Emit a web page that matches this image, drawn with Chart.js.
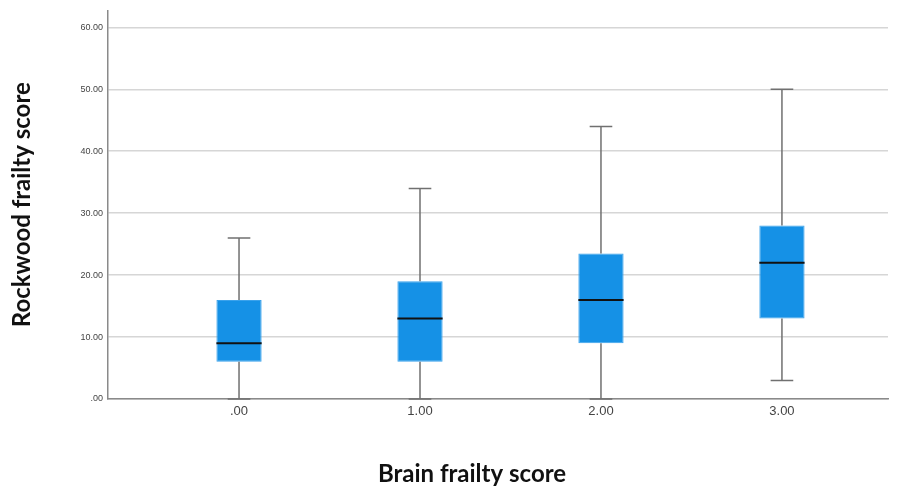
<!DOCTYPE html>
<html>
<head>
<meta charset="utf-8">
<script src="https://cdn.jsdelivr.net/npm/chart.js@4"></script>
<style>
  html, body { margin: 0; padding: 0; background: #fff; }
  #wrap { width: 902px; height: 492px; }
</style>
</head>
<body>
<div id="wrap"><canvas id="grafica"></canvas></div>
<script>
const categorias = ['.00', '1.00', '2.00', '3.00'];
const minimos = [0, 0, 0, 3];
const cuartil1 = [6, 6, 9, 13];
const medianas = [9, 13, 16, 22];
const cuartil3 = [16, 19, 23.5, 28];
const maximos = [26, 34, 44, 50];
const ticksY = [0, 10, 20, 30, 40, 50, 60];

function etiquetaY(v) {
    return v === 0 ? '.00' : v.toFixed(2);
}

// bigotes y mediana encima de las cajas
const bigotes = {
    id: 'bigotes',
    afterDatasetsDraw(chart) {
        const ctx = chart.ctx;
        const y = chart.scales.y;
        const meta = chart.getDatasetMeta(0);
        meta.data.forEach((barra, i) => {
            const x = barra.x;
            const ancho = barra.width;
            const cap = ancho * 0.25;
            ctx.save();
            ctx.strokeStyle = '#707070';
            ctx.lineWidth = 1.5;
            ctx.beginPath();
            ctx.moveTo(x, y.getPixelForValue(minimos[i]));
            ctx.lineTo(x, y.getPixelForValue(cuartil1[i]));
            ctx.moveTo(x, y.getPixelForValue(cuartil3[i]));
            ctx.lineTo(x, y.getPixelForValue(maximos[i]));
            ctx.moveTo(x - cap, y.getPixelForValue(minimos[i]));
            ctx.lineTo(x + cap, y.getPixelForValue(minimos[i]));
            ctx.moveTo(x - cap, y.getPixelForValue(maximos[i]));
            ctx.lineTo(x + cap, y.getPixelForValue(maximos[i]));
            ctx.stroke();
            ctx.strokeStyle = '#111';
            ctx.lineWidth = 2;
            ctx.beginPath();
            ctx.moveTo(x - ancho / 2, y.getPixelForValue(medianas[i]));
            ctx.lineTo(x + ancho / 2, y.getPixelForValue(medianas[i]));
            ctx.stroke();
            ctx.restore();
        });
    }
};

new Chart(document.getElementById('grafica'), {
    type: 'bar',
    data: {
        datasets: [{
            data: categorias.map((c, i) => ({ x: i, y: [cuartil1[i], cuartil3[i]] })),
            backgroundColor: '#1591e6',
            borderColor: '#3aa2ec',
            borderWidth: 1,
            borderSkipped: false,
            barPercentage: 0.25,
            categoryPercentage: 1
        }]
    },
    options: {
        responsive: true,
        maintainAspectRatio: false,
        animation: false,
        layout: { padding: { top: 9, right: 14, bottom: 0, left: 56 } },
        plugins: {
            legend: { display: false },
            tooltip: { enabled: false },
            title: {
                display: true,
                position: 'bottom',
                text: 'Brain frailty score',
                color: '#111',
                font: { family: 'Lato', size: 24, weight: 'bold' },
                padding: { top: 0, bottom: 3 }
            }
        },
        scales: {
            x: {
                type: 'linear',
                offset: false,
                min: -0.724,
                max: 3.586,
                afterBuildTicks: (s) => { s.ticks = categorias.map((c, i) => ({ value: i })); },
                afterFit: (s) => { s.height = 61.2; },
                grid: { display: false, drawTicks: false, offset: false },
                border: { display: true, color: '#8a8a8a', width: 1.5 },
                ticks: {
                    padding: 5,
                    color: '#444',
                    font: { family: 'Liberation Sans', size: 13 },
                    callback: (v) => categorias[v]
                }
            },
            y: {
                min: 0,
                max: 62.73,
                afterBuildTicks: (s) => { s.ticks = ticksY.map(v => ({ value: v })); },
                afterFit: (s) => { s.width = 52; },
                grid: { color: '#d6d6d6', lineWidth: 1.5, drawTicks: false },
                border: { display: true, color: '#8a8a8a', width: 1.5 },
                ticks: {
                    padding: 5,
                    color: '#444',
                    font: { family: 'Liberation Sans', size: 9 },
                    callback: (v) => etiquetaY(v)
                },
                title: {
                    display: true,
                    text: 'Rockwood frailty score',
                    color: '#111',
                    font: { family: 'Lato', size: 24, weight: 'bold' },
                    padding: { top: -48.4, bottom: 0 }
                }
            }
        }
    },
    plugins: [bigotes]
});
</script>
</body>
</html>
